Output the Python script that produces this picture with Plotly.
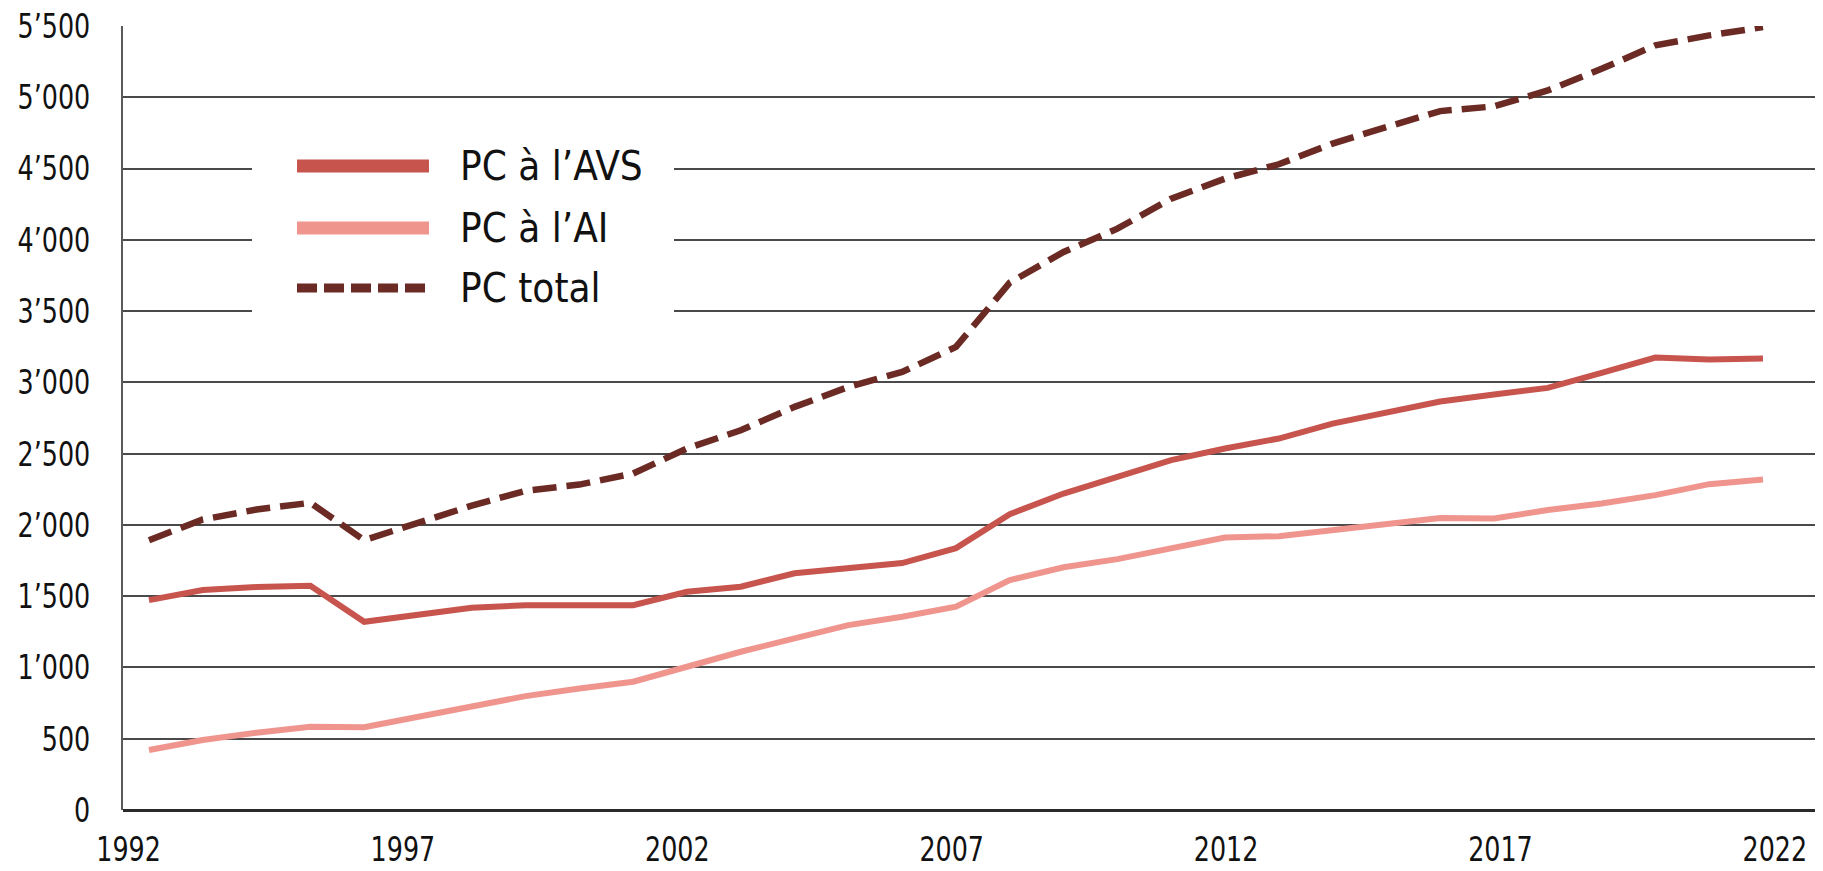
import plotly.graph_objects as go

# ---------------- data ----------------
years = list(range(1992, 2023))
pc_avs = [1472, 1543, 1564, 1573, 1320, 1374, 1419, 1437, 1437, 1437,
          1531, 1566, 1661, 1697, 1732, 1837, 2075, 2220, 2337, 2454,
          2536, 2606, 2711, 2786, 2866, 2915, 2961, 3066, 3174, 3160, 3167]
pc_ai = [421, 491, 542, 584, 580, 654, 724, 799, 853, 900,
         1005, 1110, 1204, 1297, 1356, 1426, 1613, 1703, 1760, 1834,
         1912, 1921, 1963, 2005, 2048, 2045, 2104, 2150, 2209, 2286, 2319]
pc_total = [1893, 2038, 2108, 2155, 1893, 2020, 2135, 2239, 2283, 2361,
            2536, 2664, 2828, 2968, 3073, 3249, 3700, 3915, 4078, 4289,
            4429, 4530, 4675, 4791, 4903, 4936, 5048, 5200, 5364, 5434, 5492]

x_tick_years = [1992, 1997, 2002, 2007, 2012, 2017, 2022]
x_tick_text = ["1992", "1997", "2002", "2007", "2012", "2017", "2022"]
y_tick_vals = [0, 500, 1000, 1500, 2000, 2500, 3000, 3500, 4000, 4500, 5000, 5500]
y_tick_text = ["0", "500", "1’000", "1’500", "2’000", "2’500", "3’000",
               "3’500", "4’000", "4’500", "5’000", "5’500"]

series_names = ["PC à l’AVS", "PC à l’AI", "PC total"]

# ---------------- style ----------------
C_AVS = "#C8544E"
C_AI = "#EF958E"
C_TOT = "#6B2A23"
FONT = "DejaVu Sans Condensed, DejaVu Sans, sans-serif"

W, H = 1823, 871
ML, MR, MT, MB = 123, 8, 26, 61
PW, PH = W - ML - MR, H - MT - MB

# label axis is slightly stretched relative to the data axis in the original
tick_stretch = 1.02
tick_pos = [1991.62 + (y - 1992) * tick_stretch for y in x_tick_years]

fig = go.Figure()
fig.add_trace(go.Scatter(x=years, y=pc_ai, mode="lines", name=series_names[1],
                         line=dict(color=C_AI, width=6), showlegend=False))
fig.add_trace(go.Scatter(x=years, y=pc_avs, mode="lines", name=series_names[0],
                         line=dict(color=C_AVS, width=6), showlegend=False))
fig.add_trace(go.Scatter(x=years, y=pc_total, mode="lines", name=series_names[2],
                         line=dict(color=C_TOT, width=6.5, dash="24px,10px"),
                         showlegend=False))


def px_x(p):
    return (p - ML) / PW


def px_y(p):
    return (H - MB - p) / PH


shapes = [
    # legend background (covers gridlines)
    dict(type="rect", xref="paper", yref="paper",
         x0=px_x(252), x1=px_x(674), y0=px_y(322), y1=px_y(118),
         fillcolor="white", line=dict(width=0), layer="above"),
]
legend_rows = [(166, C_AVS, 13, "solid"), (228, C_AI, 13, "solid"), (288, C_TOT, 9, "20px,7px")]
annotations = []
for (yy, col, lw, dsh), name in zip(legend_rows, series_names):
    shapes.append(dict(type="line", xref="paper", yref="paper",
                       x0=px_x(297), x1=px_x(429), y0=px_y(yy), y1=px_y(yy),
                       line=dict(color=col, width=lw, dash=dsh), layer="above"))
    annotations.append(dict(xref="paper", yref="paper", x=px_x(458), y=px_y(yy),
                            text=name, showarrow=False, xanchor="left", yanchor="middle",
                            font=dict(family=FONT, size=40, color="#111111")))

fig.update_layout(
    width=W, height=H, autosize=False,
    margin=dict(l=ML, r=MR, t=MT, b=MB, autoexpand=False),
    paper_bgcolor="white", plot_bgcolor="white",
    shapes=shapes, annotations=annotations,
    showlegend=False,
    xaxis=dict(range=[1991.517, 2022.967], tickmode="array", tickvals=tick_pos,
               ticktext=x_tick_text, showgrid=False, zeroline=False, automargin=False,
               showline=False, ticks="outside", ticklen=9, tickcolor="rgba(0,0,0,0)",
               ticklabeloverflow="allow",
               tickfont=dict(family=FONT, size=34, color="#111111")),
    yaxis=dict(range=[0, 5500], tickmode="array", tickvals=y_tick_vals,
               ticktext=y_tick_text, showgrid=True, gridcolor="#4a4a4a", gridwidth=2,
               zeroline=True, zerolinecolor="#2a2a2a", zerolinewidth=3, automargin=False,
               showline=True, linecolor="#5a5a5a", linewidth=2,
               ticks="", ticklabelstandoff=24, ticklabeloverflow="allow",
               tickfont=dict(family=FONT, size=34, color="#111111")),
)

post = """
document.body.style.margin='0';
document.body.style.overflow='hidden';
var gd = document.getElementById('{plot_id}');
function squeeze(){
  var els = gd.querySelectorAll('.xtick text, .ytick text');
  els.forEach(function(t){
    if (t.getAttribute('data-sq')) return;
    var w = t.getComputedTextLength();
    if (w > 0) {
      var anchor = t.getAttribute('text-anchor') || 'start';
      var b0 = t.getBBox();
      var ref0 = anchor === 'end' ? b0.x + b0.width : (anchor === 'middle' ? b0.x + b0.width / 2 : b0.x);
      t.setAttribute('textLength', (w * 0.83).toFixed(2));
      t.setAttribute('lengthAdjust', 'spacingAndGlyphs');
      var b1 = t.getBBox();
      var ref1 = anchor === 'end' ? b1.x + b1.width : (anchor === 'middle' ? b1.x + b1.width / 2 : b1.x);
      var d = ref0 - ref1;
      if (Math.abs(d) > 0.3) { t.setAttribute('dx', d.toFixed(2)); }
      t.setAttribute('data-sq', '1');
    }
  });
}
squeeze();
setTimeout(squeeze, 30);
if (gd.on) { gd.on('plotly_afterplot', squeeze); }
"""

fig.write_html("out.html", post_script=post, config={"displayModeBar": False})
